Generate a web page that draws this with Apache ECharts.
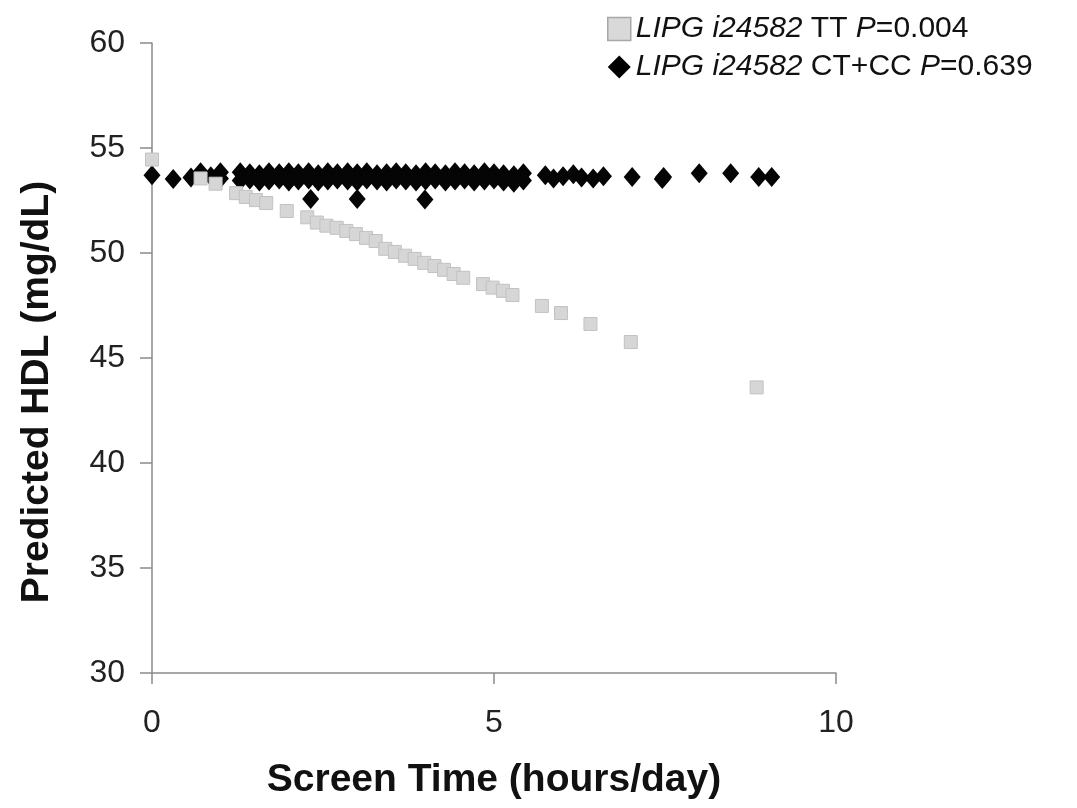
<!DOCTYPE html>
<html>
<head>
<meta charset="utf-8">
<script src="https://cdn.jsdelivr.net/npm/echarts@6/dist/echarts.min.js"></script>
<style>
html,body{margin:0;padding:0;background:#fff;}
#chart{width:1077px;height:808px;}
</style>
</head>
<body>
<div id="chart"></div>
<script>
// ---- Data ----
var xTicks = [0, 5, 10];
var yTicks = [30, 35, 40, 45, 50, 55, 60];

var seriesNames = ['LIPG i24582 TT P=0.004', 'LIPG i24582 CT+CC P=0.639'];

// LIPG i24582 TT (grey squares): [screen time, predicted HDL]
var ttPoints = [
  [0.00, 54.45], [0.71, 53.55], [0.93, 53.30], [1.23, 52.85], [1.37, 52.67],
  [1.52, 52.52], [1.67, 52.38], [1.97, 52.00], [2.27, 51.70], [2.41, 51.45],
  [2.55, 51.30], [2.70, 51.20], [2.84, 51.05], [2.98, 50.90], [3.13, 50.72],
  [3.27, 50.57], [3.41, 50.20], [3.55, 50.05], [3.70, 49.87], [3.84, 49.72],
  [3.98, 49.53], [4.13, 49.38], [4.27, 49.20], [4.41, 49.00], [4.55, 48.82],
  [4.84, 48.52], [4.98, 48.35], [5.13, 48.20], [5.27, 48.00], [5.70, 47.48],
  [5.98, 47.14], [6.41, 46.62], [7.00, 45.76], [8.84, 43.60]
];

// LIPG i24582 CT+CC (black diamonds): [screen time, predicted HDL]
var ctccPoints = [
  [0.00, 53.70], [0.31, 53.52], [0.57, 53.60], [0.71, 53.85], [0.86, 53.65],
  [1.00, 53.85], [1.00, 53.55],
  [1.29, 53.85], [1.29, 53.45], [1.43, 53.80], [1.43, 53.50], [1.57, 53.75], [1.57, 53.40],
  [1.71, 53.85], [1.71, 53.45], [1.86, 53.80], [1.86, 53.50], [2.00, 53.85], [2.00, 53.40],
  [2.14, 53.80], [2.14, 53.45], [2.29, 53.85], [2.29, 53.50], [2.43, 53.75], [2.43, 53.40],
  [2.57, 53.85], [2.57, 53.45], [2.71, 53.80], [2.71, 53.50], [2.86, 53.85], [2.86, 53.45],
  [3.00, 53.80], [3.00, 53.40], [3.14, 53.85], [3.14, 53.50], [3.29, 53.75], [3.29, 53.45],
  [3.43, 53.80], [3.43, 53.40], [3.57, 53.85], [3.57, 53.50], [3.71, 53.80], [3.71, 53.45],
  [3.86, 53.75], [3.86, 53.40], [4.00, 53.85], [4.00, 53.45], [4.14, 53.80], [4.14, 53.50],
  [4.29, 53.75], [4.29, 53.40], [4.43, 53.85], [4.43, 53.45], [4.57, 53.80], [4.57, 53.50],
  [4.71, 53.75], [4.71, 53.40], [4.86, 53.85], [4.86, 53.45], [5.00, 53.80], [5.00, 53.50],
  [5.14, 53.75], [5.14, 53.40], [5.29, 53.70], [5.29, 53.35], [5.43, 53.80], [5.43, 53.45],
  [2.32, 52.57], [3.00, 52.57], [3.99, 52.55],
  [5.75, 53.70], [5.87, 53.55], [6.01, 53.65], [6.16, 53.75], [6.28, 53.60],
  [6.45, 53.55], [6.60, 53.65],
  [7.02, 53.62], [7.46, 53.52], [7.48, 53.62], [8.00, 53.80], [8.46, 53.80],
  [8.87, 53.62], [9.06, 53.62]
];

var chart = echarts.init(document.getElementById('chart'), null, {renderer: 'canvas'});
var FONT = "'Liberation Sans', Arial, sans-serif";
var axisColor = '#8a8a8a';

function legendFmt(name) {
  if (name === seriesNames[0]) return '{i|LIPG i24582} TT {i|P}=0.004';
  return '{i|LIPG i24582} CT+CC {i|P}=0.639';
}

chart.setOption({
  backgroundColor: '#ffffff',
  animation: false,
  textStyle: {fontFamily: FONT},
  grid: {left: 152, right: 241, top: 43, bottom: 135, containLabel: false},
  legend: {
    orient: 'vertical',
    left: 602,
    top: 9,
    itemGap: 8,
    itemWidth: 23,
    itemHeight: 23,
    formatter: legendFmt,
    data: [
      {name: seriesNames[0], icon: 'rect', itemStyle: {color: '#d9d9d9', borderColor: '#a8a8a8', borderWidth: 1.5}},
      {name: seriesNames[1], icon: 'diamond', itemStyle: {color: '#000000'}}
    ],
    textStyle: {
      fontFamily: FONT, fontSize: 30, color: '#111',
      rich: {i: {fontStyle: 'italic', fontSize: 30, color: '#111', fontFamily: FONT}}
    }
  },
  xAxis: {
    type: 'value',
    min: xTicks[0], max: xTicks[xTicks.length - 1], interval: 5,
    splitLine: {show: false},
    axisLine: {show: true, lineStyle: {color: axisColor, width: 1.5}},
    axisTick: {show: true, length: 11, lineStyle: {color: axisColor, width: 1.5}},
    axisLabel: {fontSize: 32, color: '#222', margin: 34, fontFamily: FONT},
    name: 'Screen Time (hours/day)',
    nameLocation: 'middle',
    nameGap: 88,
    nameTextStyle: {fontSize: 39, fontWeight: 'bold', color: '#111', fontFamily: FONT}
  },
  yAxis: {
    type: 'value',
    min: yTicks[0], max: yTicks[yTicks.length - 1], interval: 5,
    splitLine: {show: false},
    axisLine: {show: true, lineStyle: {color: axisColor, width: 1.5}},
    axisTick: {show: true, length: 12, lineStyle: {color: axisColor, width: 1.5}},
    axisLabel: {fontSize: 32, color: '#222', margin: 27, fontFamily: FONT},
    name: 'Predicted HDL (mg/dL)',
    nameLocation: 'middle',
    nameGap: 95,
    nameTextStyle: {fontSize: 39, fontWeight: 'bold', color: '#111', fontFamily: FONT, padding: [0, 68, 0, 0]}
  },
  series: [
    {
      name: seriesNames[1],
      type: 'scatter',
      symbol: 'diamond',
      symbolSize: [17, 20],
      clip: false,
      itemStyle: {color: '#050505', opacity: 1},
      data: ctccPoints,
      z: 2
    },
    {
      name: seriesNames[0],
      type: 'scatter',
      symbol: 'rect',
      symbolSize: 13,
      clip: false,
      itemStyle: {color: '#d6d6d6', borderColor: '#c2c2c2', borderWidth: 1, opacity: 1},
      data: ttPoints,
      z: 3
    }
  ]
});
</script>
</body>
</html>
